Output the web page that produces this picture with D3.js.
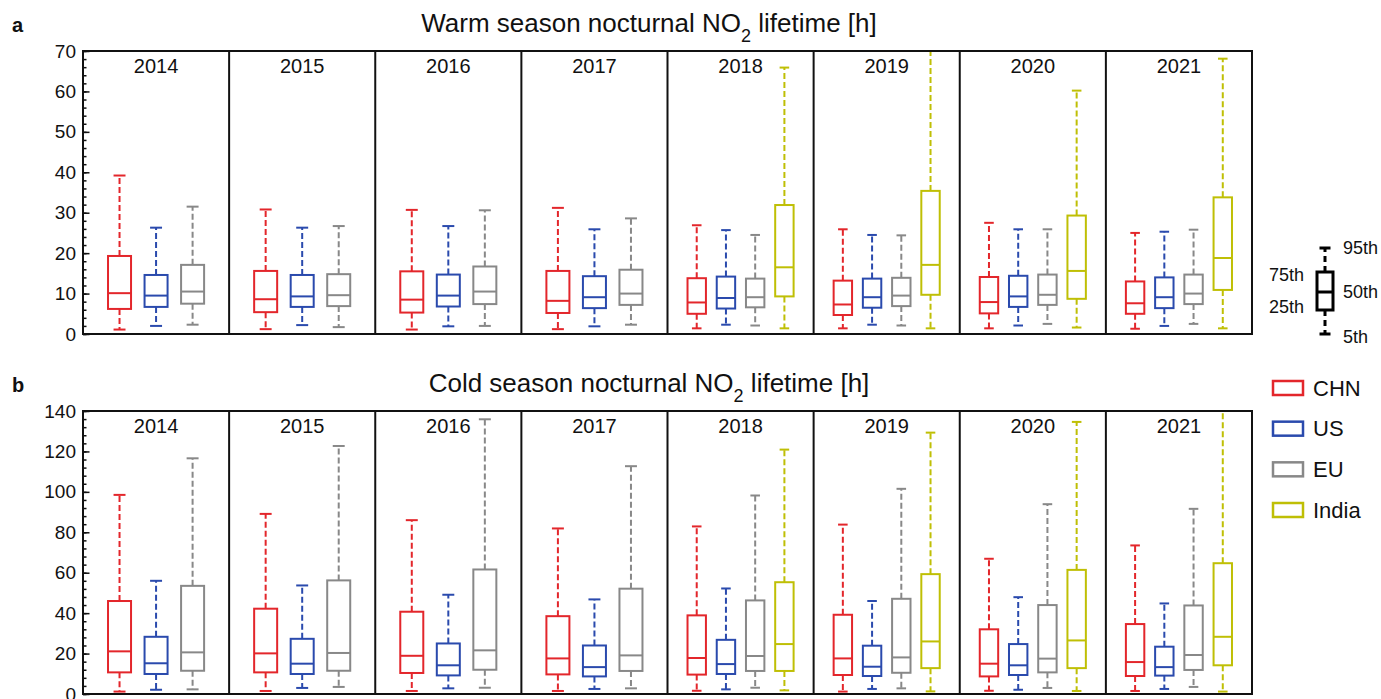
<!DOCTYPE html>
<html>
<head>
<meta charset="utf-8">
<script src="https://cdn.jsdelivr.net/npm/d3@7"></script>
<style>
  body { margin: 0; background: #fff; }
  text { font-family: Arial, "Liberation Sans", Helvetica, sans-serif; fill: #111; }
</style>
</head>
<body>
<svg id="chart" width="1381" height="699"></svg>
<script>
// Years shown as facets
const years = [2014, 2015, 2016, 2017, 2018, 2019, 2020, 2021];
const regions = ["CHN", "US", "EU", "India"];
const regionColors = ["#e3262b", "#2a4aad", "#888888", "#bfbf05"];

// Percentiles per year: [5th, 25th, 50th, 75th, 95th], in hours
const warmCHN = [
  [1.1, 6.2, 10.1, 19.3, 39.2], [1.2, 5.4, 8.6, 15.6, 30.8], [1.1, 5.3, 8.5, 15.5, 30.7],
  [1.2, 5.2, 8.2, 15.6, 31.2], [1.4, 5.0, 7.8, 13.8, 26.9], [1.4, 4.7, 7.3, 13.2, 25.9],
  [1.4, 5.1, 7.9, 14.1, 27.5], [1.3, 5.0, 7.6, 13.0, 25.0]
];
const warmUS = [
  [2.0, 6.7, 9.5, 14.6, 26.3], [2.2, 6.7, 9.3, 14.6, 26.3], [1.9, 6.8, 9.5, 14.7, 26.7],
  [1.9, 6.4, 9.1, 14.3, 25.9], [2.3, 6.3, 8.9, 14.2, 25.7], [2.3, 6.5, 9.1, 13.7, 24.5],
  [2.1, 6.7, 9.3, 14.4, 25.9], [2.0, 6.4, 9.1, 14.0, 25.3]
];
const warmEU = [
  [2.3, 7.5, 10.5, 17.1, 31.5], [1.7, 6.9, 9.6, 14.8, 26.7], [2.0, 7.4, 10.5, 16.7, 30.6],
  [2.3, 7.2, 10.0, 15.9, 28.6], [2.1, 6.6, 9.1, 13.7, 24.5], [2.1, 6.9, 9.5, 13.9, 24.4],
  [2.5, 7.2, 9.7, 14.7, 25.9], [2.5, 7.4, 10.0, 14.7, 25.8]
];
const warmIndia = [
  null, null, null, null,
  [1.4, 9.3, 16.5, 31.9, 65.9], [1.4, 9.7, 17.1, 35.4, 74.0],
  [1.6, 8.7, 15.6, 29.3, 60.2], [1.4, 10.9, 18.8, 33.8, 68.1]
];

const coldCHN = [
  [1.2, 10.7, 21.1, 46.0, 98.5], [1.5, 10.7, 20.1, 42.2, 89.1], [1.5, 10.4, 18.9, 40.7, 86.0],
  [1.5, 9.7, 17.6, 38.5, 81.9], [1.6, 9.6, 17.8, 38.9, 82.9], [1.2, 9.4, 17.6, 39.2, 83.8],
  [1.6, 8.7, 15.0, 32.0, 66.9], [1.5, 8.9, 15.8, 34.6, 73.5]
];
const coldUS = [
  [2.1, 9.9, 15.2, 28.3, 56.0], [3.0, 9.9, 15.0, 27.3, 53.7], [2.8, 9.2, 14.2, 25.0, 49.1],
  [2.5, 8.7, 13.3, 24.0, 46.8], [2.3, 9.9, 14.8, 26.8, 52.2], [2.5, 8.9, 13.5, 23.9, 46.0],
  [2.1, 9.4, 14.2, 24.7, 47.9], [2.5, 9.1, 13.3, 23.4, 44.8]
];
const coldEU = [
  [2.3, 11.5, 20.6, 53.5, 116.6], [3.5, 11.5, 20.3, 56.2, 122.7], [3.1, 12.0, 21.6, 61.6, 135.9],
  [2.8, 11.4, 19.1, 52.1, 112.7], [3.1, 11.4, 18.8, 46.3, 98.2], [2.8, 10.5, 18.1, 47.1, 101.5],
  [3.0, 10.7, 17.5, 44.0, 93.9], [3.5, 11.9, 19.3, 43.8, 91.6]
];
const coldIndia = [
  null, null, null, null,
  [1.8, 11.4, 24.7, 55.3, 120.9], [1.3, 12.8, 26.0, 59.3, 129.3],
  [1.5, 12.8, 26.5, 61.4, 134.6], [1.2, 14.2, 28.3, 64.7, 150.0]
];

// Axis ticks
const warmTicks = [0, 10, 20, 30, 40, 50, 60, 70];
const coldTicks = [0, 20, 40, 60, 80, 100, 120, 140];

// Percentile key
const keyLabels = ["5th", "25th", "50th", "75th", "95th"];
const keySample = [0, 24, 42, 62, 86];
const keySide = ["right", "left", "right", "left", "right"];

const svg = d3.select("#chart");
const left = 83, right = 1252;

const xYear = d3.scaleBand().domain(years).range([left, right]).padding(0);

function drawPanel(cfg) {
  const g = svg.append("g");
  const y = d3.scaleLinear().domain([0, cfg.ticks[cfg.ticks.length - 1]]).range([cfg.bottom, cfg.top]);

  // Panel letter and title
  g.append("text").attr("x", 12).attr("y", cfg.top - 19)
    .style("font-size", "20px").style("font-weight", "bold").text(cfg.letter);
  const t = g.append("text").attr("x", 649).attr("y", cfg.top - 19)
    .attr("text-anchor", "middle").style("font-size", "26px");
  t.append("tspan").text(cfg.titleA);
  t.append("tspan").attr("baseline-shift", "sub").style("font-size", "18px").text("2");
  t.append("tspan").text(cfg.titleB);

  const clipId = "clip-" + cfg.letter;
  g.append("clipPath").attr("id", clipId).append("rect")
    .attr("x", left).attr("y", cfg.top).attr("width", right - left).attr("height", cfg.bottom - cfg.top);

  const marks = g.append("g").attr("clip-path", `url(#${clipId})`);

  years.forEach((yr, i) => {
    const x0 = xYear(yr);
    const present = regions.filter((r, k) => cfg.data[k][i]);
    const xIn = d3.scalePoint().domain(present).range([0, xYear.bandwidth()]).padding(1);
    const boxW = xIn.step() * 0.63;
    const capW = boxW * 0.52;

    present.forEach(r => {
      const k = regions.indexOf(r);
      const s = cfg.data[k][i];
      const cx = x0 + xIn(r);
      const col = regionColors[k];
      const bg = marks.append("g").attr("stroke", col).attr("fill", "none").attr("stroke-width", 2);
      // whiskers
      bg.append("line").attr("x1", cx).attr("x2", cx).attr("y1", y(s[3])).attr("y2", y(s[4]))
        .attr("stroke-dasharray", "6,3");
      bg.append("line").attr("x1", cx).attr("x2", cx).attr("y1", y(s[1])).attr("y2", y(s[0]))
        .attr("stroke-dasharray", "6,3");
      // caps
      [s[0], s[4]].forEach(v => {
        bg.append("line").attr("x1", cx - capW / 2).attr("x2", cx + capW / 2)
          .attr("y1", y(v)).attr("y2", y(v));
      });
      // box and median
      bg.append("rect").attr("x", cx - boxW / 2).attr("width", boxW)
        .attr("y", y(s[3])).attr("height", y(s[1]) - y(s[3])).attr("fill", "#fff");
      bg.append("line").attr("x1", cx - boxW / 2).attr("x2", cx + boxW / 2)
        .attr("y1", y(s[2])).attr("y2", y(s[2]));
    });

    // year label
    g.append("text").attr("x", x0 + xYear.bandwidth() / 2).attr("y", cfg.top + 22)
      .attr("text-anchor", "middle").style("font-size", "20px").text(yr);

    if (i > 0) {
      g.append("line").attr("x1", x0).attr("x2", x0).attr("y1", cfg.top).attr("y2", cfg.bottom)
        .attr("stroke", "#111").attr("stroke-width", 2);
    }
  });

  // y axis: minor and major ticks pointing inward
  const minorTicks = d3.range(0, cfg.ticks[cfg.ticks.length - 1] + 1e-9, cfg.minor);
  const minor = g.append("g").attr("transform", `translate(${left},0)`)
    .call(d3.axisLeft(y).tickValues(minorTicks).tickSize(-3.5).tickFormat(""));
  minor.select(".domain").remove();
  minor.selectAll("line").attr("stroke", "#111").attr("stroke-width", 1.5);

  const major = g.append("g").attr("transform", `translate(${left},0)`)
    .call(d3.axisLeft(y).tickValues(cfg.ticks).tickSize(-6.5).tickPadding(7));
  major.select(".domain").remove();
  major.selectAll("line").attr("stroke", "#111").attr("stroke-width", 1.5);
  major.selectAll("text").style("font-size", "19px").attr("fill", "#111")
    .style("font-family", "Arial, 'Liberation Sans', sans-serif");

  // frame
  g.append("rect").attr("x", left).attr("y", cfg.top).attr("width", right - left)
    .attr("height", cfg.bottom - cfg.top).attr("fill", "none").attr("stroke", "#111").attr("stroke-width", 2);
}

drawPanel({
  letter: "a", top: 51, bottom: 334, ticks: warmTicks, minor: 2,
  titleA: "Warm season nocturnal NO", titleB: " lifetime [h]",
  data: [warmCHN, warmUS, warmEU, warmIndia]
});
drawPanel({
  letter: "b", top: 411, bottom: 694, ticks: coldTicks, minor: 4,
  titleA: "Cold season nocturnal NO", titleB: " lifetime [h]",
  data: [coldCHN, coldUS, coldEU, coldIndia]
});

// Percentile key
const ky = d3.scaleLinear().domain([0, 86]).range([334, 248]);
const kx = 1325, kW = 16, kCap = 11;
const key = svg.append("g").attr("stroke", "#000").attr("stroke-width", 3).attr("fill", "none");
key.append("line").attr("x1", kx).attr("x2", kx).attr("y1", ky(keySample[3])).attr("y2", ky(keySample[4]))
  .attr("stroke-dasharray", "6,4");
key.append("line").attr("x1", kx).attr("x2", kx).attr("y1", ky(keySample[1])).attr("y2", ky(keySample[0]))
  .attr("stroke-dasharray", "6,4");
[keySample[0], keySample[4]].forEach(v => key.append("line")
  .attr("x1", kx - kCap / 2).attr("x2", kx + kCap / 2).attr("y1", ky(v)).attr("y2", ky(v)));
key.append("rect").attr("x", kx - kW / 2).attr("width", kW)
  .attr("y", ky(keySample[3])).attr("height", ky(keySample[1]) - ky(keySample[3]));
key.append("line").attr("x1", kx - kW / 2).attr("x2", kx + kW / 2)
  .attr("y1", ky(keySample[2])).attr("y2", ky(keySample[2]));
keyLabels.forEach((lab, i) => {
  const isLeft = keySide[i] === "left";
  const nudge = i === 3 ? 3 : i === 1 ? -3 : i === 0 ? 3 : 0;
  svg.append("text")
    .attr("x", isLeft ? 1304 : 1343)
    .attr("y", ky(keySample[i]) + nudge)
    .attr("text-anchor", isLeft ? "end" : "start")
    .attr("dominant-baseline", "central")
    .style("font-size", "18px").text(lab);
});

// Region legend
const legY = d3.scalePoint().domain(regions).range([388, 510]);
regions.forEach((r, i) => {
  const yy = i === 3 ? 510 : legY(r);
  svg.append("rect").attr("x", 1273).attr("y", yy - 7).attr("width", 30).attr("height", 14)
    .attr("fill", "none").attr("stroke", regionColors[i]).attr("stroke-width", 2.5);
  svg.append("text").attr("x", 1313).attr("y", yy).attr("dominant-baseline", "central")
    .style("font-size", "22px").text(r);
});
</script>
</body>
</html>
